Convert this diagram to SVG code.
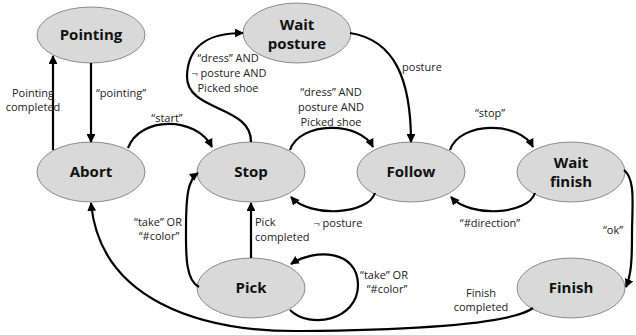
<svg xmlns="http://www.w3.org/2000/svg" width="636" height="335" viewBox="0 0 636 335">
<defs>
<style>
.node ellipse{fill:#d9d9d9;stroke:#7f7f7f;stroke-width:0.9}
.node text{font-family:"Open Sans","Liberation Sans",sans-serif;font-weight:bold;font-size:15px;fill:#111;text-anchor:middle}
.edge path{fill:none;stroke:#000;stroke-width:2.2;marker-end:url(#ah)}
.lbl{font-family:"Open Sans","Liberation Sans",sans-serif;font-size:11px;fill:#222;text-anchor:middle}
.bg{fill:#fff}
</style>
<marker id="ah" viewBox="0 0 10 10" refX="9" refY="5" markerWidth="4" markerHeight="4" orient="auto" markerUnits="strokeWidth">
<path d="M0,0 L10,5 L0,10 z" fill="#000"/>
</marker>
</defs>
<rect class="bg" width="636" height="335"/>
<g id="pointing" class="node"><ellipse cx="91" cy="35" rx="54" ry="28"/><text x="91" y="40">Pointing</text></g>
<g id="wait-posture" class="node"><ellipse cx="297" cy="33" rx="54" ry="30"/><text x="297" y="30">Wait</text><text x="297" y="49">posture</text></g>
<g id="abort" class="node"><ellipse cx="91" cy="172" rx="54" ry="30"/><text x="91" y="177">Abort</text></g>
<g id="stop" class="node"><ellipse cx="251" cy="172" rx="54" ry="30"/><text x="251" y="177">Stop</text></g>
<g id="follow" class="node"><ellipse cx="411" cy="172" rx="54" ry="30"/><text x="411" y="177">Follow</text></g>
<g id="wait-finish" class="node"><ellipse cx="571" cy="172" rx="54" ry="30"/><text x="571" y="168">Wait</text><text x="571" y="187">finish</text></g>
<g id="pick" class="node"><ellipse cx="251" cy="288" rx="54" ry="30"/><text x="251" y="293">Pick</text></g>
<g id="finish" class="node"><ellipse cx="571" cy="288" rx="54" ry="30"/><text x="571" y="293">Finish</text></g>
<g id="connectors" class="edge">
<path d="M53,150 L53,56"/>
<path d="M91,63 L91,142"/>
<path d="M128,148 C140,116 196,116 212,147"/>
<path d="M251,142 C252,105 186,112 187,76 C188,42 213,33 243,33"/>
<path d="M290,150 C300,121 360,121 373,147"/>
<path d="M350,33 C395,40 411,80 411,142"/>
<path d="M450,150 C460,121 520,121 533,147"/>
<path d="M535,193 C528,215 470,218 451,197"/>
<path d="M375,193 C368,215 310,218 291,197"/>
<path d="M624,170 C636,180 632,205 632,235 C632,262 631,275 626,287"/>
<path d="M533,308 C510,325 400,330 300,331 C200,332 100,300 91,203"/>
<path d="M251,258 L251,203"/>
<path d="M199,287 C185,280 186,252 186,230 C186,195 188,180 198,173"/>
<path d="M290,310 C310,330 358,320 358,285 C358,250 315,248 291,264"/>
</g>
<g id="labels">
<text class="lbl" x="33" y="97">Pointing</text>
<text class="lbl" x="33" y="111">completed</text>
<text class="lbl" x="121" y="97">“pointing”</text>
<text class="lbl" x="167" y="122">“start”</text>
<text class="lbl" x="228" y="62">“dress” AND</text>
<text class="lbl" x="229" y="77">¬ posture AND</text>
<text class="lbl" x="228" y="92">Picked shoe</text>
<text class="lbl" x="331" y="96">“dress” AND</text>
<text class="lbl" x="331" y="111">posture AND</text>
<text class="lbl" x="331" y="126">Picked shoe</text>
<text class="lbl" x="422" y="71">posture</text>
<text class="lbl" x="490" y="117">“stop”</text>
<text class="lbl" x="490" y="227">“#direction”</text>
<text class="lbl" x="338" y="227">¬ posture</text>
<text class="lbl" x="613" y="234">“ok”</text>
<text class="lbl" x="481" y="297">Finish</text>
<text class="lbl" x="481" y="311">completed</text>
<text class="lbl" x="255" y="226" style="text-anchor:start">Pick</text>
<text class="lbl" x="255" y="241" style="text-anchor:start">completed</text>
<text class="lbl" x="158" y="226">“take” OR</text>
<text class="lbl" x="159" y="240">“#color”</text>
<text class="lbl" x="384" y="279">“take” OR</text>
<text class="lbl" x="387" y="293">“#color”</text>
</g>
</svg>
